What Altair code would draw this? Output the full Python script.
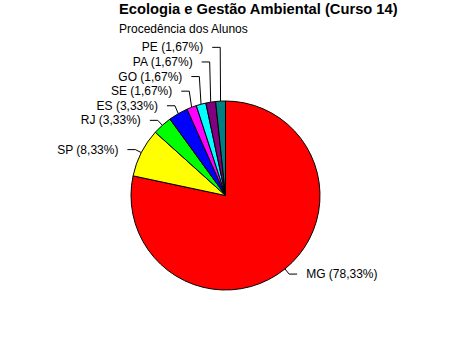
import altair as alt
import pandas as pd

regions = ["MG", "SP", "RJ", "ES", "SE", "GO", "PA", "PE"]
counts = [47, 5, 2, 2, 1, 1, 1, 1]
colors = ["#FF0000", "#FFFF00", "#00FF00", "#0000FF", "#FF00FF", "#00FFFF", "#800080", "#008080"]

total = sum(counts)
labels = [f"{r} ({100 * c / total:.2f}%)".replace(".", ",") for r, c in zip(regions, counts)]

df = pd.DataFrame({"region": regions, "count": counts, "label": labels, "i": list(range(len(regions)))})

W, H, TOP = 451, 311, 40
R = 94.5            # pie radius in px
K = 1.07            # elbow radius factor
S = 14.6 / R        # min label spacing
HL = 8 / R          # horizontal leader length

xdom = [-(W / 2) / R, (W / 2) / R]
ydom = [-(H / 2) / R, (H / 2) / R]
xs = alt.Scale(domain=xdom, nice=False, zero=False)
ys = alt.Scale(domain=ydom, nice=False, zero=False)

base = (
    alt.Chart(df)
    .transform_joinaggregate(total="sum(count)")
    .transform_window(cum="sum(count)", sort=[alt.SortField("i")], frame=[None, 0])
    .transform_calculate(a="2*PI*(datum.cum - datum.count/2)/datum.total")
    .transform_calculate(sx="sin(datum.a)", sy="cos(datum.a)")
    .transform_calculate(ex=f"{K}*datum.sx", eyn=f"{K}*datum.sy",
                         side="datum.sx < 0 ? 'L' : 'R'")
    .transform_calculate(v=f"datum.eyn - datum.i*{S}")
    .transform_window(cmax="max(v)", groupby=["side"], sort=[alt.SortField("i")], frame=[None, 0])
    .transform_calculate(ly=f"datum.side == 'L' ? datum.cmax + datum.i*{S} : datum.eyn",
                         hx=f"datum.side == 'L' ? datum.ex - {HL} : datum.ex + {HL}")
)

pie = alt.Chart(df).mark_arc(outerRadius=R, stroke="black", strokeWidth=1).encode(
    theta=alt.Theta("count:Q", stack=True),
    order=alt.Order("i:Q"),
    color=alt.Color("region:N", scale=alt.Scale(domain=regions, range=colors), legend=None),
)

seg1 = base.mark_rule(color="black", strokeWidth=1).encode(
    x=alt.X("sx:Q", scale=xs, axis=None), y=alt.Y("sy:Q", scale=ys, axis=None),
    x2="ex:Q", y2="ly:Q",
)
seg2 = base.mark_rule(color="black", strokeWidth=1).encode(
    x=alt.X("ex:Q", scale=xs, axis=None), y=alt.Y("ly:Q", scale=ys, axis=None),
    x2="hx:Q", y2="ly:Q",
)
txtL = base.transform_filter("datum.side == 'L'").mark_text(
    align="right", baseline="middle", dx=-17, font="Liberation Sans", fontSize=12, color="black"
).encode(x=alt.X("ex:Q", scale=xs, axis=None), y=alt.Y("ly:Q", scale=ys, axis=None), text="label:N")
txtR = base.transform_filter("datum.side == 'R'").mark_text(
    align="left", baseline="middle", dx=17, font="Liberation Sans", fontSize=12, color="black"
).encode(x=alt.X("ex:Q", scale=xs, axis=None), y=alt.Y("ly:Q", scale=ys, axis=None), text="label:N")

chart = (
    alt.layer(pie, seg1, seg2, txtL, txtR)
    .properties(
        width=W, height=H,
        autosize=alt.AutoSizeParams(type="none"),
        padding={"left": 0, "top": TOP, "right": 0, "bottom": 0},
        background="white",
        title=alt.TitleParams(
            text="Ecologia e Gestão Ambiental (Curso 14)",
            subtitle="Procedência dos Alunos",
            anchor="start", frame="group", dx=119, offset=5,
            font="Liberation Sans", fontSize=14.7, fontWeight="bold", color="black",
            subtitleFont="Liberation Sans", subtitleFontSize=12, subtitleColor="black",
            subtitlePadding=7,
        ),
    )
    .configure_view(strokeWidth=0)
)

chart.save("out.html", embed_options={"renderer": "svg", "actions": False})
